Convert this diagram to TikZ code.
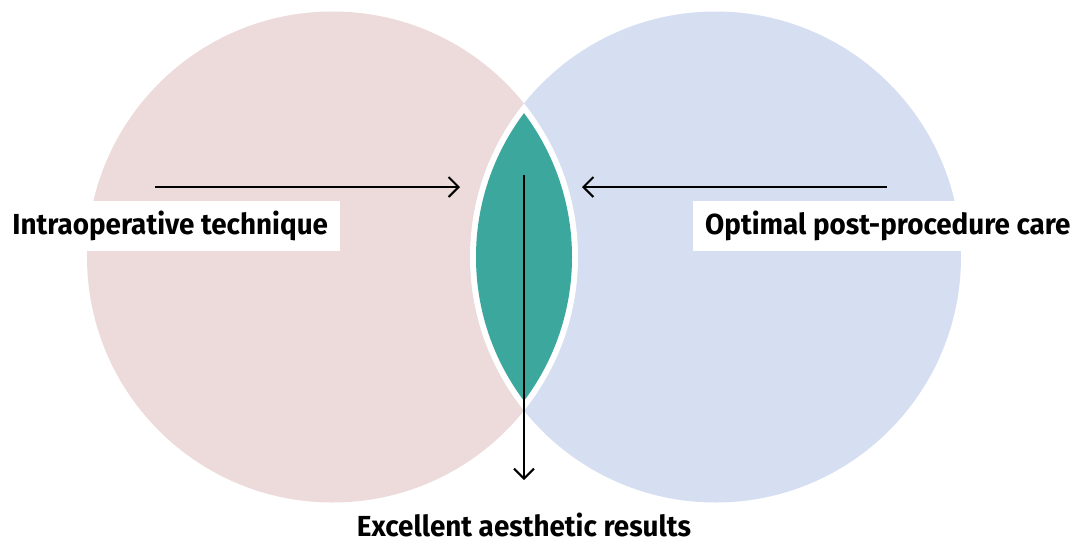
\documentclass[tikz,border=0pt]{standalone}
\usepackage{fontspec}
\usetikzlibrary{arrows.meta}
\newfontfamily\labelfont{Fira Sans}[FakeStretch=0.96]
\definecolor{pinkfill}{RGB}{237,218,218}
\definecolor{bluefill}{RGB}{214,222,242}
\definecolor{lensfill}{RGB}{59,167,157}
\newcommand{\leftdisc}[1]{(332.5,257) circle[radius=#1]}
\newcommand{\rightdisc}[1]{(715.5,257) circle[radius=#1]}
\tikzset{
    lbltext/.style={inner sep=0pt,font=\labelfont\bfseries\fontsize{14.5}{17}\selectfont},
    lbl/.style={lbltext,fill=white,inner xsep=6pt,minimum height=25pt},
    arr/.style={-{Straight Barb[length=5pt,width=10pt]},line width=1pt},
}

\begin{document}
\begin{tikzpicture}[x=0.5pt,y=-0.5pt]
    \useasboundingbox (0,0) rectangle (1083,542);
    \fill[pinkfill] \leftdisc{245.5};
    \fill[bluefill] \rightdisc{245.5};
    \begin{scope}
        \clip \leftdisc{245.5};
        \fill[white] \rightdisc{245.5};
    \end{scope}
    \begin{scope}
        \clip \leftdisc{239.5};
        \fill[lensfill] \rightdisc{239.5};
    \end{scope}

    \node[lbl,anchor=west] (tech) at (0,226) {Intraoperative technique};
    \node[lbl,anchor=east] (care) at (1083,226) {Optimal post-procedure care};
    \node[lbltext,anchor=base] (result) at (524,536) {Excellent aesthetic results};

    \coordinate (techfrom) at (155,187);
    \coordinate (techto) at (460,187);
    \coordinate (carefrom) at (887,187);
    \coordinate (careto) at (582,187);
    \coordinate (lensfrom) at (524,175);
    \coordinate (lensto) at (524,480);
    \draw[arr] (techfrom) -- (techto);
    \draw[arr] (carefrom) -- (careto);
    \draw[arr] (lensfrom) -- (lensto);
\end{tikzpicture}
\end{document}
